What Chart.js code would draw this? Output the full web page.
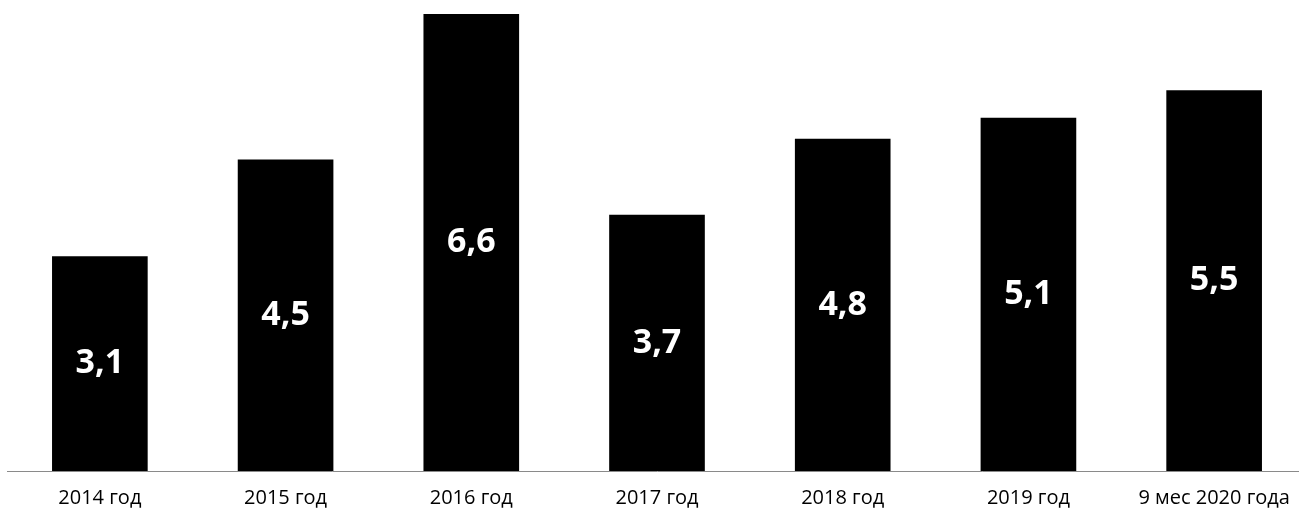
<!DOCTYPE html>
<html>
<head>
<meta charset="utf-8">
<script src="https://cdn.jsdelivr.net/npm/chart.js@4.4.1/dist/chart.umd.min.js"></script>
<style>
  html, body { margin: 0; padding: 0; background: #fff; overflow: hidden; }
  #wrap { position: absolute; left: 0; top: 0; width: 1307px; height: 522px; }
</style>
</head>
<body>
<div id="wrap"><canvas id="bars" width="1307" height="522"></canvas></div>
<script>
// categories and values
const categories = ['2014 год', '2015 год', '2016 год', '2017 год', '2018 год', '2019 год', '9 мес 2020 года'];
const values = [3.1, 4.5, 6.6, 3.7, 4.8, 5.1, 5.5];
const valueLabels = ['3,1', '4,5', '6,6', '3,7', '4,8', '5,1', '5,5'];

//draw the value in the middle of each bar
const insideLabels = {
    id: 'insideLabels',
    afterDatasetsDraw(chart) {
        const ctx = chart.ctx;
        const meta = chart.getDatasetMeta(0);
        ctx.save();
        ctx.fillStyle = '#fff';
        ctx.font = 'bold 34px "Open Sans"';
        ctx.textAlign = 'center';
        ctx.textBaseline = 'middle';
        meta.data.forEach(function (bar, i) {
            const mid = (bar.y + bar.base) / 2;
            ctx.fillText(valueLabels[i], bar.x, mid);
        });
        ctx.restore();
    }
};

const canvas = document.getElementById('bars');
new Chart(canvas, {
    type: 'bar',
    data: {
        labels: categories,
        datasets: [{
            data: values,
            backgroundColor: '#000',
            borderWidth: 0,
            categoryPercentage: 1,
            barPercentage: 0.515
        }]
    },
    options: {
        responsive: false,
        animation: false,
        layout: { padding: { top: 14, left: 7, right: 0, bottom: 5 } },
        plugins: { legend: { display: false }, tooltip: { enabled: false } },
        scales: {
            x: {
                grid: { display: false },
                border: { display: true, color: '#8a8a8a', width: 1, dash: [9, 4] },
                ticks: {
                    color: '#000',
                    font: { family: '"Open Sans"', size: 20 },
                    padding: 7,
                    maxRotation: 0,
                    autoSkip: false
                }
            },
            y: {
                display: false,
                min: 0,
                max: 6.6
            }
        }
    },
    plugins: [insideLabels]
});
</script>
</body>
</html>
